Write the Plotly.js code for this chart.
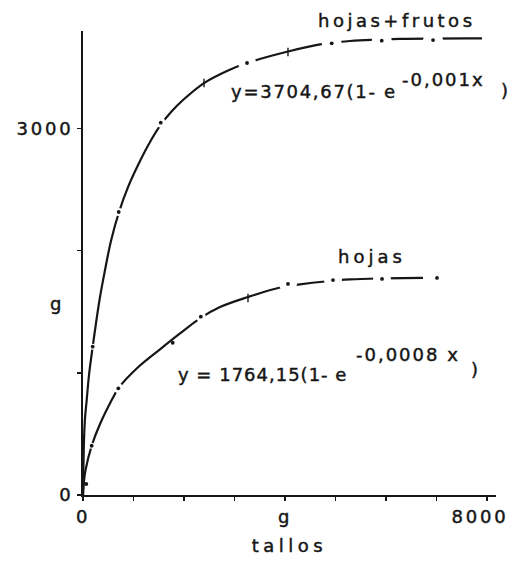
<!DOCTYPE html>
<html>
<head>
<meta charset="utf-8">
<script src="https://cdn.plot.ly/plotly-3.0.1.min.js"></script>
<style>
  html, body { margin: 0; padding: 0; background: #fff; }
  #chart { width: 513px; height: 562px; }
</style>
</head>
<body>
<div id="chart"></div>
<script>
// Growth curves: dry weight (g) of hojas+frutos and of hojas against tallos.

// hojas + frutos: traced curve
const frutosX = [0, 20, 40, 73, 119, 192, 327, 436, 554, 707, 891, 1129, 1327, 1545, 1762, 1980, 2396, 2851, 3248, 4059, 4752, 5287, 6277, 7901];
const frutosY = [0, 450, 630, 777, 982, 1214, 1596, 1841, 2079, 2308, 2520, 2733, 2889, 3032, 3142, 3232, 3371, 3470, 3535, 3629, 3691, 3715, 3732, 3736];
// hojas + frutos: plotted points
const frutosDotX = [192, 707, 1539, 3248, 4925, 5915, 6931];
const frutosDotY = [1214, 2316, 3047, 3535, 3696, 3718, 3723];
const frutosTickX = [2396, 4059];
const frutosTickY = [3371, 3625];

// hojas: traced curve
const hojasX = [0, 20, 50, 172, 337, 600, 699, 1095, 1525, 1921, 2317, 2713, 3267, 3901, 4297, 4792, 5287, 5881, 6733];
const hojasY = [0, 115, 205, 403, 581, 802, 873, 1047, 1192, 1322, 1446, 1538, 1620, 1698, 1723, 1747, 1764, 1772, 1776];
// hojas: plotted points
const hojasDotX = [65, 172, 699, 1776, 2333, 4059, 4950, 5921, 7010];
const hojasDotY = [90, 403, 873, 1246, 1459, 1727, 1759, 1768, 1776];
const hojasTickX = [3267];
const hojasTickY = [1612];

// axis ticks
const xTickVals = [0, 1000, 2000, 3000, 4000, 5000, 6000, 7000, 8000];
const xTickText = ['0', '', '', '', 'g', '', '', '', '8000'];
const yTickVals = [0, 1000, 2000, 3000];
const yTickText = ['0', '', '', '3000'];

const X_MAX = 8178;
const Y_MAX = 3797;
const INK = '#161616';

// white clearings that interrupt a curve around its plotted points (one marker each)
function clearTraces(xs, ys, gaps) {
  const out = [];
  xs.forEach((x, i) => {
    if (gaps[i] <= 0) return;
    out.push({
      type: 'scatter', mode: 'markers', x: [x], y: [ys[i]], xaxis: 'x2', yaxis: 'y2', hoverinfo: 'skip',
      marker: { symbol: 'circle', color: '#ffffff', size: 2 * gaps[i], line: { width: 0 } }
    });
  });
  return out;
}
// the plotted points themselves
function dotTrace(xs, ys) {
  return {
    type: 'scatter', mode: 'markers', x: xs, y: ys, xaxis: 'x2', yaxis: 'y2', hoverinfo: 'skip',
    marker: { symbol: 'circle', color: INK, size: 3.8, line: { width: 0 } }
  };
}
function curveTrace(xs, ys) {
  return {
    type: 'scatter', mode: 'lines', x: xs, y: ys, hoverinfo: 'skip',
    line: { color: INK, width: 2.2, shape: 'spline', smoothing: 1 }
  };
}
function tickTrace(xs, ys) {
  return {
    type: 'scatter', mode: 'markers', x: xs, y: ys, xaxis: 'x2', yaxis: 'y2', hoverinfo: 'skip',
    marker: { symbol: 'line-ns', size: 6, line: { color: INK, width: 1.4 } }
  };
}

const traces = [
  curveTrace(frutosX, frutosY),
  curveTrace(hojasX, hojasY),
  ...clearTraces(frutosDotX, frutosDotY, [3, 4, 5, 9, 10, 10, 10]),
  ...clearTraces(hojasDotX, hojasDotY, [0, 3, 5, 0, 5, 9, 9, 9, 0]),
  dotTrace(frutosDotX, frutosDotY),
  dotTrace(hojasDotX, hojasDotY),
  tickTrace(frutosTickX, frutosTickY),
  tickTrace(hojasTickX, hojasTickY)
];

// labels and fitted equations (positions in axis units), with their letter spacing
const labels = [
  { text: 'hojas+frutos', x: 6218, y: 3887, sp: 3.5 },
  { text: 'y=3704,67(1- e', x: 4574, y: 3298, sp: 1.7 },
  { text: '-0,001x', x: 7139, y: 3404, sp: 2 },
  { text: ')', x: 8356, y: 3314, sp: 0 },
  { text: 'hojas', x: 5723, y: 1948, sp: 4 },
  { text: 'y = 1764,15(1- e', x: 3564, y: 982, sp: 1 },
  { text: '-0,0008 x', x: 6426, y: 1146, sp: 2 },
  { text: ')', x: 7752, y: 1023, sp: 0 },
  { text: 'g', x: -535, y: 1571, sp: 0 }
];

const axisCommon = {
  showgrid: false, zeroline: false, showline: true, linewidth: 2, linecolor: INK,
  ticks: 'outside', ticklen: 4, tickwidth: 1.5, tickcolor: INK, tickmode: 'array',
  tickfont: { size: 18, color: INK }, fixedrange: true
};
const overlayCommon = {
  visible: false, showgrid: false, zeroline: false, fixedrange: true
};

const layout = {
  width: 513, height: 562,
  margin: { l: 83, r: 17, t: 31, b: 67 },
  paper_bgcolor: '#ffffff', plot_bgcolor: '#ffffff',
  showlegend: false,
  font: { family: 'DejaVu Sans, sans-serif', size: 18, color: INK },
  xaxis: Object.assign({}, axisCommon, {
    range: [0, X_MAX], tickvals: xTickVals, ticktext: xTickText,
    title: { text: 'tallos', font: { size: 18, color: INK }, standoff: 14 }
  }),
  yaxis: Object.assign({}, axisCommon, {
    range: [0, Y_MAX], tickvals: yTickVals, ticktext: yTickText
  }),
  xaxis2: Object.assign({}, overlayCommon, { overlaying: 'x', range: [0, X_MAX] }),
  yaxis2: Object.assign({}, overlayCommon, { overlaying: 'y', range: [0, Y_MAX] }),
  annotations: labels.map(l => ({
    text: l.text, x: l.x / X_MAX, y: l.y / Y_MAX, xref: 'paper', yref: 'paper',
    xanchor: 'center', yanchor: 'middle', showarrow: false,
    font: { size: 18, color: INK }
  }))
};

// lettering: spaced out and slightly heavier strokes
function letter(t, spacing) {
  t.style.letterSpacing = spacing + 'px';
  t.style.stroke = INK;
  t.style.strokeWidth = '0.45px';
}

Plotly.newPlot('chart', traces, layout, { staticPlot: true, displayModeBar: false }).then(gd => {
  gd.querySelectorAll('.xtick text, .ytick text').forEach(t => {
    letter(t, 2.8);
    if (t.textContent === '8000') t.setAttribute('dx', '-7');
  });
  gd.querySelectorAll('.g-xtitle text').forEach(t => letter(t, 4.5));
  labels.forEach((l, i) => {
    const t = gd.querySelector('.annotation[data-index="' + i + '"] text');
    if (t) letter(t, l.sp);
  });
});
</script>
</body>
</html>
